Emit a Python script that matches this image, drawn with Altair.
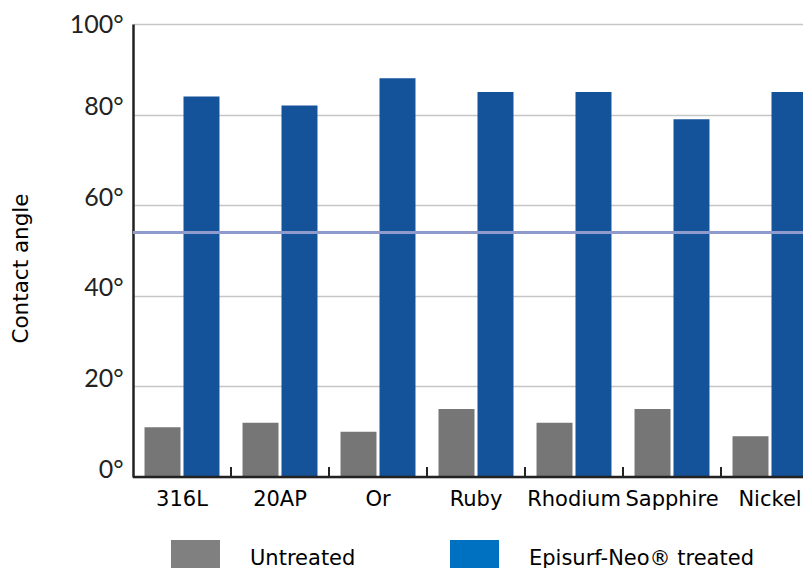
import altair as alt
import pandas as pd

categories = ["316L", "20AP", "Or", "Ruby", "Rhodium", "Sapphire", "Nickel"]
untreated = [11, 12, 10, 15, 12, 15, 9]
treated = [84, 82, 88, 85, 85, 79, 85]
series_names = ["Untreated", "Episurf-Neo® treated"]
bar_colors = ["#767676", "#14529a"]
legend_colors = ["#808080", "#0070c0"]
y_ticks = [0, 20, 40, 60, 80, 100]
threshold = [54]

rows = []
for i, c in enumerate(categories):
    rows.append(dict(cat=c, series=series_names[0], value=untreated[i], fill=bar_colors[0]))
    rows.append(dict(cat=c, series=series_names[1], value=treated[i], fill=bar_colors[1]))
df = pd.DataFrame(rows)
tick_df = pd.DataFrame({"cat": categories[1:]})
thr_df = pd.DataFrame({"t": threshold})
base_df = pd.DataFrame({"t": [0]})

xscale = alt.Scale(domain=categories, range=[0, 686], paddingInner=0.235, paddingOuter=0.1175)
yscale = alt.Scale(domain=[0, 100], nice=False)

x_enc = alt.X("cat:N", scale=xscale, title=None,
              axis=alt.Axis(labelAngle=0, ticks=False, grid=False, domain=False))
xoff_enc = alt.XOffset("series:N", scale=alt.Scale(domain=series_names, paddingInner=0.077, paddingOuter=0))
y_enc = alt.Y("value:Q", scale=yscale, title="Contact angle",
              axis=alt.Axis(values=y_ticks, labelExpr="datum.value + '°'",
                            labelOffset={"condition": {"test": "datum.value == 100", "value": 0}, "value": -8},
                            titleX=-112, titleY=244, titleAngle=270, titleBaseline="middle"))

bars = alt.Chart(df).mark_bar(clip=True).encode(
    x=x_enc, xOffset=xoff_enc, y=y_enc,
    fill=alt.Fill("fill:N", scale=None, legend=None),
)

legend_layer = alt.Chart(df).mark_square(opacity=0, filled=True, clip=True).encode(
    x=x_enc, xOffset=xoff_enc, y=y_enc,
    color=alt.Color("series:N", scale=alt.Scale(domain=series_names, range=legend_colors),
                    legend=alt.Legend(title=None, orient="none", legendX=38, legendY=516,
                                      direction="horizontal", symbolType="square",
                                      symbolSize=2401, symbolOpacity=1, symbolStrokeWidth=0,
                                      labelFont="DejaVu Sans", labelFontSize=21,
                                      labelColor="#000", labelOffset=30, columnPadding=94,
                                      labelBaseline="alphabetic", labelLimit=400)),
)

ticks = alt.Chart(tick_df).mark_rule(color="#222", strokeWidth=2, xOffset=-11.5, clip=True).encode(
    x=alt.X("cat:N", scale=xscale, bandPosition=0),
    y=alt.datum(0),
    y2=alt.datum(2.2),
)

thr = alt.Chart(thr_df).mark_rule(color="#8e9bcc", strokeWidth=3).encode(
    y=alt.Y("t:Q", scale=yscale)
)

baseline = alt.Chart(base_df).mark_rule(color="#222", strokeWidth=2.5).encode(
    y=alt.Y("t:Q", scale=yscale)
)

chart = alt.layer(bars, legend_layer, thr, baseline, ticks).properties(
    width=670, height=453,
    autosize=alt.AutoSizeParams(type="none"),
    padding={"left": 125, "top": 16, "right": 0, "bottom": 111},
).configure_view(stroke=None).configure_axisY(
    domainColor="#222", domainWidth=2.5, ticks=False,
    gridColor="#c6c6c6", gridWidth=1.5,
    labelFont="Lato", labelFontSize=25, labelColor="#222", labelPadding=10,
    titleFont="DejaVu Sans", titleFontSize=21.5, titleColor="#000", titleFontWeight="normal",
).configure_axisX(
    labelFont="DejaVu Sans", labelFontSize=21, labelColor="#000", labelPadding=11,
)

chart.save("out.html", embed_options={"renderer": "svg", "actions": False})
